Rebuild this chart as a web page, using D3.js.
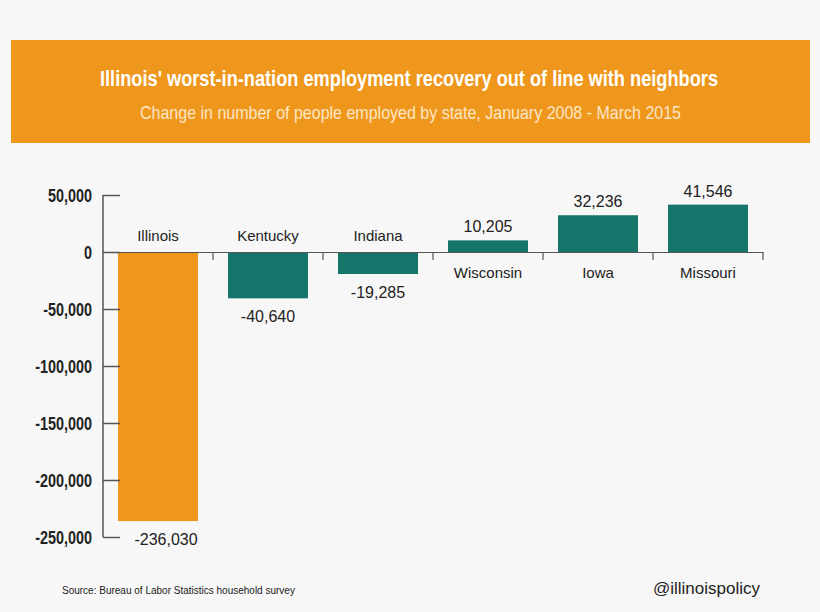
<!DOCTYPE html><html><head><meta charset="utf-8"><script src="https://cdn.jsdelivr.net/npm/d3@7"></script>
<style>body{margin:0;background:#f7f7f7}</style></head><body><svg id="c" width="820" height="612"></svg>
<script>
const states=["Illinois","Kentucky","Indiana","Wisconsin","Iowa","Missouri"];
const values=[-236030,-40640,-19285,10205,32236,41546];
const yTicks=[50000,0,-50000,-100000,-150000,-200000,-250000];
const fmt=v=>d3.format(",")(v).replace("−","-");
const svg=d3.select("#c");
svg.append("rect").attr("width",820).attr("height",612).attr("fill","#f7f7f7");
svg.append("rect").attr("x",11).attr("y",40).attr("width",799).attr("height",103).attr("fill","#ee971c");
const ff="'Liberation Sans',sans-serif";
svg.append("text").attr("x",100).attr("y",86).attr("fill","#fff").attr("font-family",ff).attr("font-weight","bold").attr("font-size",22).attr("textLength",618).attr("lengthAdjust","spacingAndGlyphs").text("Illinois' worst-in-nation employment recovery out of line with neighbors");
svg.append("text").attr("x",140).attr("y",119).attr("fill","#fde6c4").attr("font-family",ff).attr("font-size",19).attr("textLength",541).attr("lengthAdjust","spacingAndGlyphs").text("Change in number of people employed by state, January 2008 - March 2015");
const y=d3.scaleLinear().domain([-250000,50000]).range([537,195]);
const x=d3.scaleBand().domain(states).range([103,763]);
const g=svg.append("g");
states.forEach((s,i)=>{
  const v=values[i];
  const bx=x(s)+15,bw=80;
  g.append("rect").attr("x",bx).attr("width",bw).attr("y",y(Math.max(0,v))).attr("height",Math.abs(y(v)-y(0))).attr("fill",i==0?"#ee971c":"#15756a");
  const lab=fmt(v);
  const cx=bx+bw/2;
  const ly=v<0?241:278, vy=v<0?y(v)+24:y(v)-8;
  g.append("text").attr("x",cx).attr("y",ly).attr("text-anchor","middle").attr("font-family",ff).attr("font-size",15).attr("fill","#222").text(s);
  g.append("text").attr("x",cx+(i==0?8:0)).attr("y",vy).attr("text-anchor","middle").attr("font-family",ff).attr("font-size",16).attr("fill","#222").text(lab);
});
const ya=svg.append("g").attr("transform","translate(103,0)").call(d3.axisRight(y).tickValues(yTicks).tickSize(17).tickFormat(""));
ya.select(".domain").remove();
ya.selectAll("line").attr("stroke","#555").attr("stroke-width",1.5);
svg.append("line").attr("x1",103).attr("x2",103).attr("y1",y(50000)).attr("y2",y(-250000)).attr("stroke","#555").attr("stroke-width",1.5);
yTicks.forEach(t=>svg.append("g").attr("transform",`translate(92,${y(t)+7}) scale(0.8,1)`).append("text").attr("text-anchor","end").attr("font-family",ff).attr("font-weight","bold").attr("font-size",18).attr("fill","#222").text(fmt(t)));
const xa=svg.append("g").attr("transform",`translate(0,${y(0)})`).call(d3.axisBottom(x).tickValues([]).tickSizeOuter(0));
xa.select(".domain").attr("stroke","#555").attr("stroke-width",1.2);
states.forEach(s=>svg.append("line").attr("x1",x(s)+x.bandwidth()).attr("x2",x(s)+x.bandwidth()).attr("y1",y(0)).attr("y2",y(0)+8).attr("stroke","#555").attr("stroke-width",1.2));
svg.append("text").attr("x",62).attr("y",594).attr("font-family",ff).attr("font-size",10).attr("fill","#222").text("Source: Bureau of Labor Statistics household survey");
svg.append("text").attr("x",760).attr("y",594).attr("text-anchor","end").attr("font-family",ff).attr("font-size",17).attr("fill","#222").text("@illinoispolicy");
</script></body></html>
